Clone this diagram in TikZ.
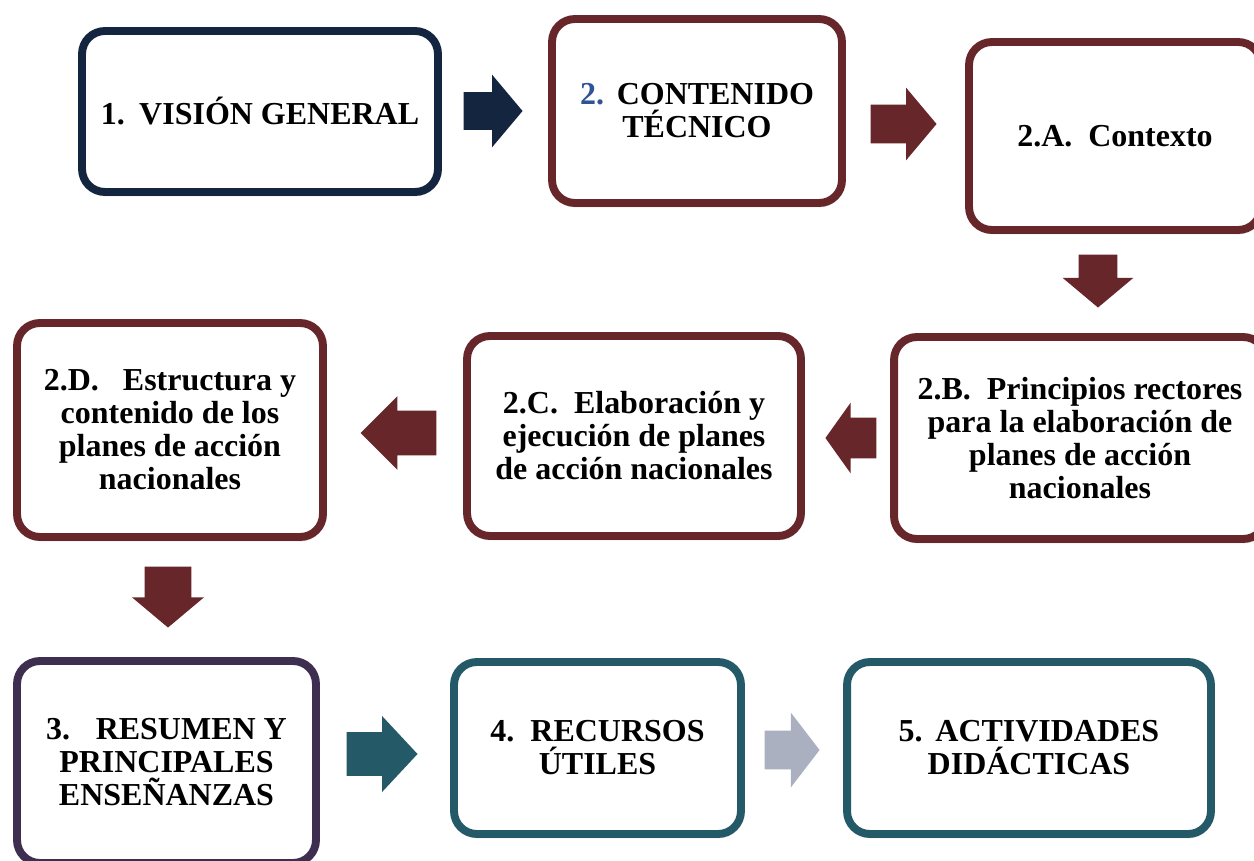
\documentclass[tikz,border=0pt]{standalone}
\usepackage{fontspec}
\setmainfont{Liberation Serif}
\usetikzlibrary{shapes.arrows, shadows}
\definecolor{navy1}{RGB}{20, 38, 63}
\definecolor{maroon1}{RGB}{102, 38, 42}
\definecolor{plum1}{RGB}{62, 47, 80}
\definecolor{teal1}{RGB}{36, 90, 103}
\definecolor{gray1}{RGB}{170, 176, 191}
\definecolor{numblue}{RGB}{46, 84, 150}

\begin{document}
\begin{tikzpicture}[x=0.02cm, y=-0.02cm,
  topicbox/.style={draw=#1, line width=4.5pt, fill=white, rounded corners=13pt, align=center, inner sep=0pt,
    font=\fontsize{18.2}{18.8}\selectfont\bfseries,
    drop shadow={shadow xshift=0.5pt, shadow yshift=-2.5pt, opacity=0.25}},
  blockarrow/.style={single arrow, fill=#1, draw=none, inner xsep=0pt, anchor=tip, single arrow tip angle=100}]
  \clip (0,0) rectangle (1254,861);

  % Row 1
  \node[topicbox=navy1, minimum width=7.12cm, minimum height=3.22cm] (vision) at (260,111.5) {1.\hspace{0.45em}VISIÓN GENERAL};
  \node[topicbox=maroon1, minimum width=5.8cm, minimum height=3.68cm] (contenido) at (697,111) {\textcolor{numblue}{2.}\hspace{0.4em}CONTENIDO\\TÉCNICO};
  \node[topicbox=maroon1, minimum width=5.84cm, minimum height=3.76cm] (contexto) at (1115,136) {2.A.\hspace{0.5em}Contexto};

  % Row 2
  \node[topicbox=maroon1, minimum width=7.44cm, minimum height=4.04cm] (principios) at (1080,438) {2.B.\hspace{0.5em}Principios rectores\\para la elaboración de\\planes de acción\\nacionales};
  \node[topicbox=maroon1, minimum width=6.68cm, minimum height=4cm] (elaboracion) at (634,436) {2.C.\hspace{0.5em}Elaboración y\\ejecución de planes\\de acción nacionales};
  \node[topicbox=maroon1, minimum width=6.12cm, minimum height=4.28cm] (estructura) at (170,430) {2.D.\hspace{0.75em}Estructura y\\contenido de los\\planes de acción\\nacionales};

  % Row 3
  \node[topicbox=plum1, minimum width=5.98cm, minimum height=4.04cm] (resumen) at (166.5,762) {3.\hspace{0.8em}RESUMEN Y\\PRINCIPALES\\ENSEÑANZAS};
  \node[topicbox=teal1, minimum width=5.74cm, minimum height=3.44cm] (recursos) at (597.5,748) {4.\hspace{0.5em}RECURSOS\\ÚTILES};
  \node[topicbox=teal1, minimum width=7.28cm, minimum height=3.44cm] (actividades) at (1029,748) {5.\hspace{0.4em}ACTIVIDADES\\DIDÁCTICAS};

  % Block arrows
  \node[blockarrow=navy1, minimum height=1.18cm, inner ysep=0.37cm, single arrow head extend=0.35cm] (arrow1) at (523,111) {};
  \node[blockarrow=maroon1, minimum height=1.32cm, inner ysep=0.38cm, single arrow head extend=0.34cm] (arrow2) at (937,124) {};
  \node[blockarrow=maroon1, rotate=-90, minimum height=1.06cm, inner ysep=0.38cm, single arrow head extend=0.32cm] (arrow3) at (1098,308) {};
  \node[blockarrow=maroon1, rotate=180, minimum height=1.02cm, inner ysep=0.4cm, single arrow head extend=0.3cm, single arrow tip angle=109] (arrow4) at (825,438) {};
  \node[blockarrow=maroon1, rotate=180, minimum height=1.52cm, inner ysep=0.44cm, single arrow head extend=0.29cm, single arrow tip angle=90] (arrow5) at (360,433) {};
  \node[blockarrow=maroon1, rotate=-90, minimum height=1.22cm, inner ysep=0.46cm, single arrow head extend=0.25cm] (arrow6) at (168,628) {};
  \node[blockarrow=teal1, minimum height=1.42cm, inner ysep=0.43cm, single arrow head extend=0.32cm, single arrow tip angle=94] (arrow7) at (418,754) {};
  \node[blockarrow=gray1, minimum height=1.1cm, inner ysep=0.38cm, single arrow head extend=0.36cm, single arrow tip angle=105] (arrow8) at (820,750) {};
\end{tikzpicture}
\end{document}
